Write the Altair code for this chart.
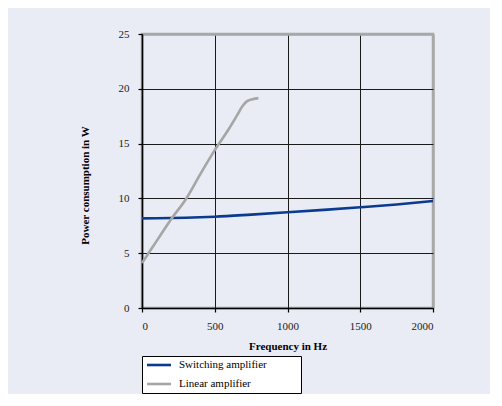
import altair as alt
import pandas as pd

switch_freq = [0, 100, 200, 300, 400, 500, 750, 1000, 1250, 1500, 1750, 2000]
switch_power = [8.18, 8.19, 8.21, 8.24, 8.28, 8.33, 8.52, 8.73, 8.95, 9.19, 9.45, 9.76]

linear_freq = [0, 30, 100, 200, 300, 400, 500, 600, 650, 690, 720, 760, 800]
linear_power = [4.1, 4.7, 6.1, 8.1, 9.9, 12.2, 14.4, 16.4, 17.5, 18.4, 18.85, 19.05, 19.15]

series_names = ["Switching amplifier", "Linear amplifier"]
series_colors = ["#0B3B8F", "#A6A6A6"]

x_ticks = [0, 500, 1000, 1500, 2000]
y_ticks = [0, 5, 10, 15, 20, 25]

df = pd.concat([
    pd.DataFrame({"freq": switch_freq, "power": switch_power, "series": series_names[0], "order": range(len(switch_freq))}),
    pd.DataFrame({"freq": linear_freq, "power": linear_power, "series": series_names[1], "order": range(len(linear_freq))}),
])

FONT = "Liberation Serif, Times New Roman, serif"
BG = "#E9EBF5"
PAD = "\u00a0" * 11 + "\u200b"

chart = alt.Chart(df).mark_line(strokeWidth=2.6, interpolate="monotone").encode(
    x=alt.X("freq:Q", title="Frequency in Hz",
            scale=alt.Scale(domain=[0, 2000], nice=False),
            axis=alt.Axis(values=x_ticks, format="d", titlePadding=9, labelPadding=8,
                          labelFont=FONT, labelFontSize=11,
                          gridColor={"condition": {"test": "datum.value == 2000", "value": "#A8A8A8"}, "value": "#1a1a1a"},
                          gridWidth={"condition": {"test": "datum.value == 2000", "value": 2.5}, "value": 1})),
    y=alt.Y("power:Q", title="Power consumption in W",
            scale=alt.Scale(domain=[0, 25], nice=False),
            axis=alt.Axis(values=y_ticks, format="d", labelPadding=9, titleX=-52, titleY=151,
                          labelFont=FONT, labelFontSize=11,
                          gridColor={"condition": {"test": "datum.value == 25", "value": "#A8A8A8"}, "value": "#1a1a1a"},
                          gridWidth={"condition": {"test": "datum.value == 25", "value": 2.5}, "value": 1})),
    color=alt.Color("series:N", scale=alt.Scale(domain=series_names, range=series_colors),
                    legend=alt.Legend(title=None, orient="none", legendX=0, legendY=322,
                                      fillColor="#FFFFFF", strokeColor="#000000",
                                      padding=3.5, symbolOffset=8, rowPadding=7,
                                      symbolType="M-3,0H3", symbolSize=64, symbolStrokeWidth=2.6,
                                      labelOffset=14.5, labelFont=FONT, labelFontSize=11, labelColor="black",
                                      labelExpr=f"datum.label + '{PAD}'")),
    order="order:Q",
).properties(
    width=291, height=274,
    autosize=alt.AutoSizeParams(type="none"),
    padding={"left": 134, "top": 26, "right": 57, "bottom": 86},
    background=BG,
).configure_view(
    stroke="#A8A8A8", strokeWidth=2.5, fill=BG,
).configure_axis(
    domainColor="black", domainWidth=1.6, tickColor="black", tickSize=4, tickWidth=1.2,
    labelFont=FONT, labelFontSize=11, labelColor="#222",
    titleFont=FONT, titleFontSize=11, titleFontWeight="bold", titleColor="black",
    grid=True,
)

chart.save("out.html", embed_options={"renderer": "svg", "actions": False})
